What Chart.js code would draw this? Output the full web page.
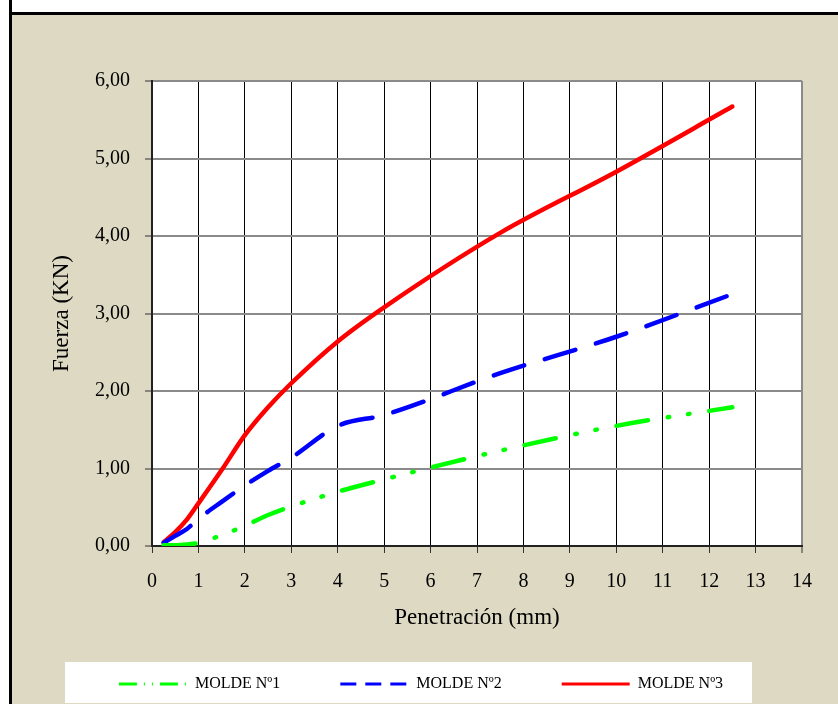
<!DOCTYPE html>
<html>
<head>
<meta charset="utf-8">
<title>Fuerza vs Penetración</title>
<script src="https://cdn.jsdelivr.net/npm/chart.js@4.4.1/dist/chart.umd.min.js"></script>
<style>
  html, body { margin: 0; padding: 0; background: #ffffff; }
  #wrap { width: 838px; height: 704px; position: relative; }
</style>
</head>
<body>
<div id="wrap"><canvas id="grafico" width="838" height="704"></canvas></div>
<script>
// Penetración (mm) de cada lectura
const penetracion = [0.25, 0.5, 0.75, 1, 1.5, 2, 2.5, 3, 4, 5, 7.5, 10, 12.5];

// Fuerza (KN) de cada molde
const molde1 = [0.01, 0.01, 0.02, 0.04, 0.14, 0.26, 0.40, 0.51, 0.70, 0.86, 1.23, 1.55, 1.79];
const molde2 = [0.04, 0.13, 0.22, 0.35, 0.57, 0.78, 0.97, 1.14, 1.55, 1.69, 2.23, 2.70, 3.25];
const molde3 = [0.05, 0.18, 0.34, 0.55, 0.98, 1.43, 1.79, 2.10, 2.64, 3.08, 4.04, 4.83, 5.67];

const nombresSeries = ['MOLDE Nº1', 'MOLDE Nº2', 'MOLDE Nº3'];

// Ejes
const xTicks = [0, 1, 2, 3, 4, 5, 6, 7, 8, 9, 10, 11, 12, 13, 14];
const yTicks = [0, 1, 2, 3, 4, 5, 6];

const SERIF = '"Liberation Serif", "Times New Roman", serif';

const puntos = (ys) => penetracion.map((x, i) => ({ x: x, y: ys[i] }));

// Trazos en la leyenda (más cortos que en el gráfico)
const dashLeyenda = [[18, 7, 1, 7, 1, 7], [16, 9], []];

// Fondo: franja superior blanca, marco negro, fondo beige, recuadro de la leyenda y área de trazado blanca
const fondo = {
  id: 'fondo',
  beforeDraw(chart) {
    const { ctx, chartArea: a, width, height } = chart;
    ctx.save();
    ctx.fillStyle = '#ffffff';
    ctx.fillRect(0, 0, width, height);
    ctx.fillStyle = '#DDD9C3';
    ctx.fillRect(12, 15, width - 12, height - 15);
    ctx.fillStyle = '#000000';
    ctx.fillRect(9, 12, width - 9, 3);
    ctx.fillRect(9, 0, 3, height);
    ctx.fillStyle = '#ffffff';
    ctx.fillRect(65, 662, 687, 41);
    ctx.fillRect(a.left, a.top, a.right - a.left, a.bottom - a.top);
    ctx.restore();
  }
};

new Chart(document.getElementById('grafico'), {
  type: 'line',
  data: {
    datasets: [
      {
        label: nombresSeries[0],
        data: puntos(molde1),
        borderColor: '#00FF00',
        backgroundColor: '#00FF00',
        borderWidth: 4.5,
        borderDash: [32, 20, 1.5, 19, 1.5, 20],
        borderCapStyle: 'round',
        cubicInterpolationMode: 'monotone',
        pointRadius: 0,
        fill: false
      },
      {
        label: nombresSeries[1],
        data: puntos(molde2),
        borderColor: '#0000FF',
        backgroundColor: '#0000FF',
        borderWidth: 4.5,
        borderDash: [32, 21.5],
        borderCapStyle: 'round',
        cubicInterpolationMode: 'monotone',
        pointRadius: 0,
        fill: false
      },
      {
        label: nombresSeries[2],
        data: puntos(molde3),
        borderColor: '#FF0000',
        backgroundColor: '#FF0000',
        borderWidth: 4.5,
        borderCapStyle: 'round',
        cubicInterpolationMode: 'monotone',
        pointRadius: 0,
        fill: false
      }
    ]
  },
  options: {
    responsive: false,
    animation: false,
    devicePixelRatio: 1,
    layout: { padding: { left: 40, right: 36, top: 81, bottom: 2 } },
    plugins: {
      tooltip: { enabled: false },
      legend: {
        position: 'bottom',
        labels: {
          usePointStyle: true,
          pointStyle: 'line',
          pointStyleWidth: 68,
          padding: 60,
          color: '#000000',
          font: { family: SERIF, size: 16 },
          generateLabels(chart) {
            const items = Chart.defaults.plugins.legend.labels.generateLabels(chart);
            items.forEach((it, i) => {
              it.lineDash = dashLeyenda[i];
              it.lineWidth = 3;
              it.pointStyle = 'line';
            });
            return items;
          }
        }
      }
    },
    scales: {
      x: {
        type: 'linear',
        min: xTicks[0],
        max: xTicks[xTicks.length - 1],
        afterBuildTicks(scale) { scale.ticks = xTicks.map(v => ({ value: v })); },
        afterFit(scale) { scale.height = 70; },
        ticks: {
          padding: 17,
          color: '#000000',
          font: { family: SERIF, size: 20 },
          maxRotation: 0,
          callback: (v) => String(v)
        },
        grid: {
          color: (c) => (c.index === xTicks.length - 1 ? '#8a8a8a' : '#000000'),
          lineWidth: (c) => (c.index === xTicks.length - 1 ? 2 : 1),
          tickLength: 7,
          tickColor: '#333333',
          tickWidth: 1
        },
        border: { color: '#222222', width: 2 },
        title: {
          display: true,
          text: 'Penetración (mm)',
          color: '#000000',
          font: { family: SERIF, size: 23 },
          padding: { top: 0, bottom: -16 }
        }
      },
      y: {
        type: 'linear',
        min: yTicks[0],
        max: yTicks[yTicks.length - 1],
        afterBuildTicks(scale) { scale.ticks = yTicks.map(v => ({ value: v })); },
        afterFit(scale) { scale.width = 112; },
        ticks: {
          padding: 15,
          color: '#000000',
          font: { family: SERIF, size: 20 },
          callback: (v) => v.toFixed(2).replace('.', ',')
        },
        grid: {
          color: '#8a8a8a',
          lineWidth: 2,
          tickLength: 7,
          tickColor: '#333333',
          tickWidth: 1
        },
        border: { color: '#222222', width: 2 },
        title: {
          display: true,
          text: 'Fuerza (KN)',
          color: '#000000',
          font: { family: SERIF, size: 23 },
          padding: { top: 8, bottom: 0 }
        }
      }
    }
  },
  plugins: [fondo]
});
</script>
</body>
</html>
